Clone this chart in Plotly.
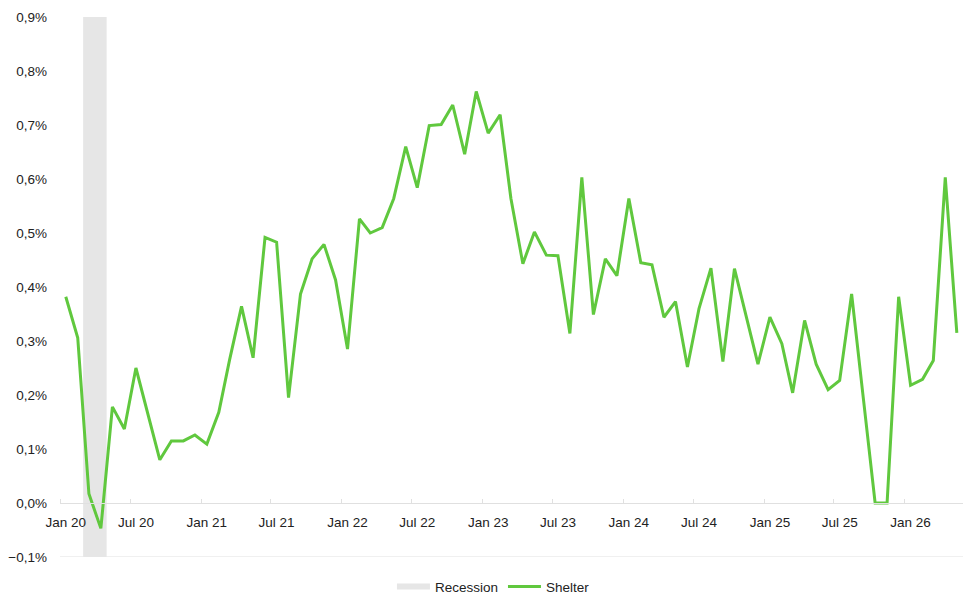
import pandas as pd
import plotly.graph_objects as go

# Monthly shelter change, % (Jan 2020 .. May 2026)
months = pd.date_range("2020-01-01", "2026-05-01", freq="MS")
shelter = [
    0.382, 0.306, 0.017, -0.047, 0.178, 0.137, 0.250, 0.165, 0.080, 0.115, 0.115, 0.126,
    0.109, 0.168, 0.265, 0.364, 0.269, 0.492, 0.483, 0.195, 0.387, 0.452, 0.479, 0.413,
    0.285, 0.526, 0.500, 0.510, 0.564, 0.660, 0.584, 0.699, 0.701, 0.737, 0.646, 0.762,
    0.685, 0.719, 0.564, 0.443, 0.502, 0.459, 0.458, 0.314, 0.603, 0.349, 0.452, 0.421,
    0.564, 0.445, 0.441, 0.344, 0.373, 0.252, 0.360, 0.435, 0.262, 0.434, 0.343, 0.257,
    0.344, 0.295, 0.204, 0.338, 0.257, 0.210, 0.227, 0.387, 0.190, 0.000, 0.000, 0.382,
    0.218, 0.229, 0.264, 0.603, 0.315,
]
recession_start = "2020-03-01"
recession_end = "2020-05-01"
y_min, y_max = -0.1, 0.9

tick_years = [2020, 2021, 2022, 2023, 2024, 2025, 2026]
tick_dates = []
tick_text = []
for yr in tick_years:
    for m, name in [(1, "Jan"), (7, "Jul")]:
        if yr == 2026 and m == 7:
            continue
        tick_dates.append(pd.Timestamp(yr, m, 1))
        tick_text.append(f"{name} {str(yr)[2:]}")

mid = pd.Timedelta(days=15)
x_points = [d + mid for d in months]
tick_label_pos = [d + mid for d in tick_dates]

GREEN = "rgb(96,200,62)"
GRAY = "#e6e6e6"
AXIS = "#e0e0e0"
FONT = "Liberation Sans, Arial, Helvetica, sans-serif"

fig = go.Figure()
fig.add_trace(go.Scatter(
    x=[recession_start, recession_start, recession_end, recession_end],
    y=[y_min, y_max, y_max, y_min],
    fill="toself", fillcolor=GRAY, mode="none", name="Recession",
    hoverinfo="skip",
))
fig.add_trace(go.Scatter(
    x=x_points, y=shelter, mode="lines", name="Shelter",
    line=dict(color=GREEN, width=3),
))

fig.add_shape(type="line", xref="paper", x0=0, x1=1, yref="y", y0=y_min, y1=y_min,
              line=dict(color=AXIS, width=1), layer="below")

fig.update_layout(
    width=980, height=610,
    margin=dict(l=60, r=17, t=17, b=53, autoexpand=False),
    paper_bgcolor="white", plot_bgcolor="white",
    separators=",.",
    font=dict(family=FONT, size=13, color="#222"),
    showlegend=True,
    legend=dict(orientation="h", x=0.48, xanchor="center", y=-0.055, yanchor="middle",
                font=dict(size=13.5, color="#222"), itemwidth=33),
    xaxis=dict(
        type="date", range=["2020-01-01", "2026-06-01"],
        anchor="free", position=0.1,
        showline=True, linecolor=AXIS, linewidth=1,
        showgrid=False, zeroline=False,
        tickmode="array", tickvals=tick_label_pos, ticktext=tick_text,
        ticks="", ticklabelstandoff=7,
        tickfont=dict(size=13.5),
        minor=dict(tickmode="array", tickvals=tick_dates, ticks="inside",
                   ticklen=4, tickcolor=AXIS, tickwidth=1),
    ),
    yaxis=dict(
        range=[y_min, y_max], dtick=0.1, tick0=0,
        tickformat=".1f", ticksuffix="%",
        showgrid=False, zeroline=False, showline=False,
        ticks="", ticklabelstandoff=12,
        tickfont=dict(size=13.5),
    ),
)

fig.write_html("out.html")
